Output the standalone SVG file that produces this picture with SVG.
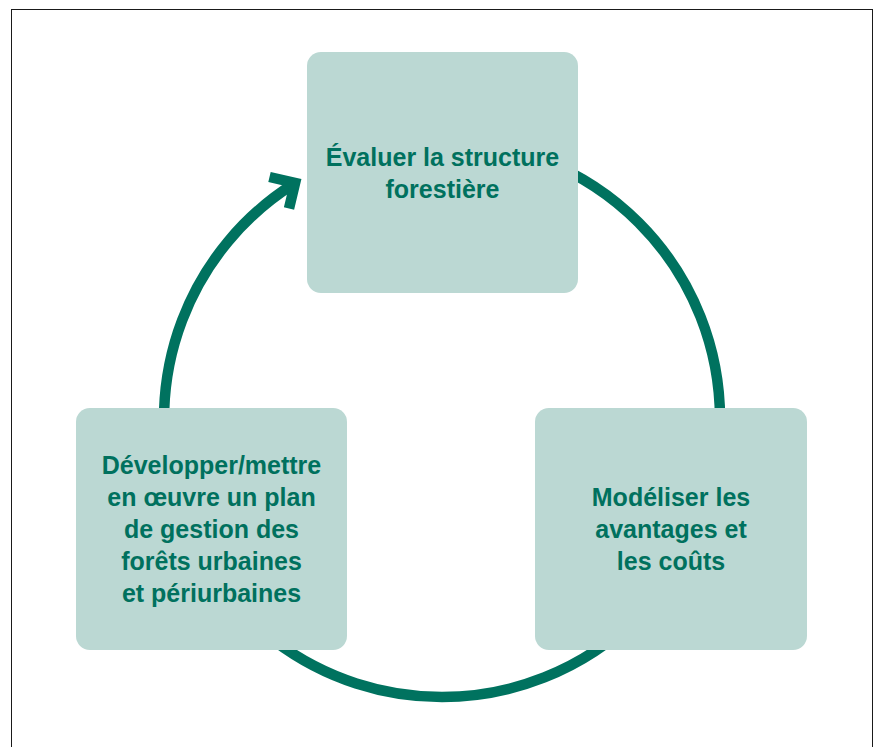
<svg xmlns="http://www.w3.org/2000/svg" width="875" height="747" viewBox="0 0 875 747">
  <style>
    .box { fill: #BBD8D3; }
    .lbl { font-family: "Liberation Sans", Arial, Helvetica, sans-serif; font-weight: bold; font-size: 25px; fill: #00715E; text-anchor: middle; }
    .ring { fill: none; stroke: #00725F; stroke-width: 10.5; }
  </style>
  <rect x="0" y="0" width="875" height="747" fill="#ffffff"/>
  <rect x="11.5" y="9.5" width="861" height="800" fill="none" stroke="#1a1a1a" stroke-width="1"/>
  <g id="connectors">
    <path class="ring" d="M 442 141 A 278 278 0 0 1 442 697 A 278 278 0 0 1 293.5 184"/>
    <polyline class="ring" points="269.5,177 295.1,183 289,208.5" stroke-linejoin="miter" stroke-miterlimit="10"/>
  </g>
  <g id="node-evaluer">
    <rect class="box" x="307" y="52" width="271" height="241" rx="14" ry="14"/>
    <text class="lbl" x="442.5" y="166">Évaluer la structure</text>
    <text class="lbl" x="442.5" y="198">forestière</text>
  </g>
  <g id="node-modeliser">
    <rect class="box" x="535" y="408" width="272" height="242" rx="14" ry="14"/>
    <text class="lbl" x="671" y="506">Modéliser les</text>
    <text class="lbl" x="671" y="538">avantages et</text>
    <text class="lbl" x="671" y="570">les coûts</text>
  </g>
  <g id="node-developper">
    <rect class="box" x="76" y="408" width="271" height="242" rx="14" ry="14"/>
    <text class="lbl" x="211.5" y="474">Développer/mettre</text>
    <text class="lbl" x="211.5" y="506">en œuvre un plan</text>
    <text class="lbl" x="211.5" y="538">de gestion des</text>
    <text class="lbl" x="211.5" y="570">forêts urbaines</text>
    <text class="lbl" x="211.5" y="602">et périurbaines</text>
  </g>
</svg>
